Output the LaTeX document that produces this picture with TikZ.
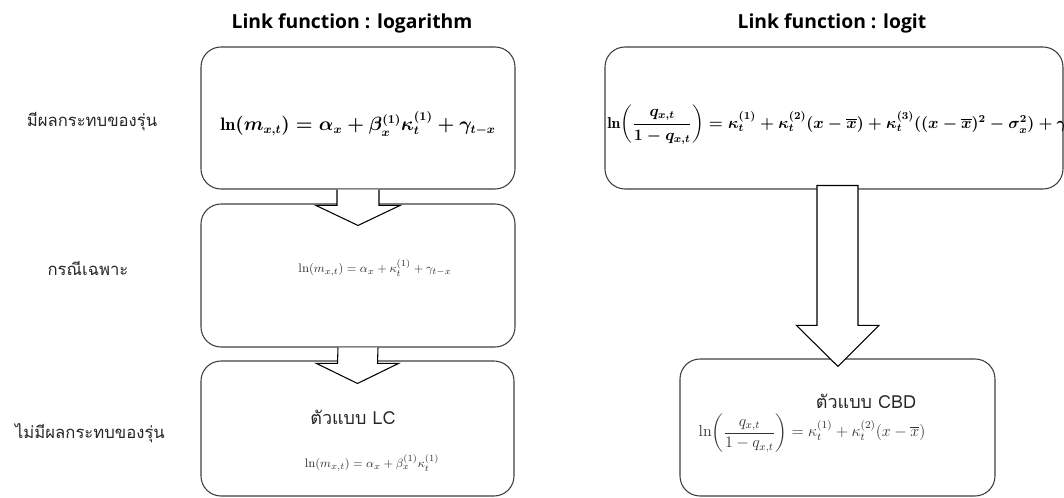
\documentclass[tikz,border=0pt]{standalone}
\usepackage{amsmath}
\usepackage{fontspec}
\newfontfamily\thaifont[Script=Thai]{Loma}
\newfontfamily\titlefont{Open Sans}
\usetikzlibrary{calc}
\newcommand\eqA{{\boldmath$\ln(m_{x,t}) = \alpha_x + \beta_x^{(1)}\kappa_t^{(1)} + \gamma_{t-x}$}}
\newcommand\eqB{$\ln(m_{x,t}) = \alpha_x + \kappa_t^{(1)} + \gamma_{t-x}$}
\newcommand\eqC{$\ln(m_{x,t}) = \alpha_x + \beta_x^{(1)}\kappa_t^{(1)}$}
\newcommand\eqD{{\boldmath$\ln\!\left(\dfrac{q_{x,t}}{1-q_{x,t}}\right) = \kappa_t^{(1)} + \kappa_t^{(2)}(x-\overline{x}) + \kappa_t^{(3)}((x-\overline{x})^2-\sigma_x^2) + \gamma_{t-x}$}}
\newcommand\eqE{$\ln\!\left(\dfrac{q_{x,t}}{1-q_{x,t}}\right) = \kappa_t^{(1)} + \kappa_t^{(2)}(x-\overline{x})$}
\begin{document}
\begin{tikzpicture}[x=0.75pt,y=-0.75pt,
  box/.style={draw=black!75, line width=0.8pt, rounded corners=15pt, inner sep=0pt},
  blockarrow/.style={draw=black, line width=0.8pt, fill=white, line join=miter},
  ttl/.style={font=\titlefont\bfseries\fontsize{14.5}{17}\selectfont},
  lbl/.style={font=\thaifont\fontsize{12.5}{15}\selectfont, text=black!85},
  sublbl/.style={font=\thaifont\fontsize{13.5}{15}\selectfont, text=black!85},
  eqbold/.style={font=\fontsize{13.5}{16}\selectfont, inner sep=0pt},
  eqreg/.style={font=\fontsize{9.3}{12}\selectfont, text=black!80, inner sep=0pt}]
\useasboundingbox (0,0) rectangle (1064,498);
\clip (0,0) rectangle (1064,498);
\fill[white] (0,0) rectangle (1064,498);

% titles
\node[ttl] (tl) at (352,23) {Link function : logarithm};
\node[ttl] (tr) at (832,23) {Link function : logit};

% left labels
\node[lbl] (l1) at (92,122) {มีผลกระทบของรุ่น};
\node[lbl] (l2) at (88,268) {กรณีเฉพาะ};
\node[lbl] (l3) at (90,433) {ไม่มีผลกระทบของรุ่น};

% boxes
\node[box, minimum width=235.5pt, minimum height=106.5pt] (b1) at (358,118) {};
\node[box, minimum width=235.5pt, minimum height=107.25pt] (b2) at (358,275.5) {};
\node[box, minimum width=234.75pt, minimum height=101.25pt] (b3) at (357.5,428.5) {};
\node[box, minimum width=343.5pt, minimum height=106.5pt] (r1) at (834,118) {};
\node[box, minimum width=236.25pt, minimum height=102.75pt] (r2) at (837.5,427.5) {};

% block arrows
\draw[blockarrow] ($(b1.south)+(-21,0)$) -- ($(b2.north)+(-21,2)$) -- ($(b2.north)+(-42,2)$)
  -- ($(b2.north)+(0,22)$) -- ($(b2.north)+(42,2)$) -- ($(b2.north)+(21,2)$) -- ($(b1.south)+(21,0)$);
\draw[blockarrow] ($(b2.south)+(-20,0)$) -- ($(b3.north)+(-20,3)$) -- ($(b3.north)+(-41,3)$)
  -- ($(b3.north)+(0,23)$) -- ($(b3.north)+(41,3)$) -- ($(b3.north)+(20,3)$) -- ($(b2.south)+(20,0)$);
\draw[blockarrow] ($(r1.south)+(-17,-4)$) -- ($(r2.north)+(-20.5,-33)$) -- ($(r2.north)+(-41,-33)$)
  -- ($(r2.north)+(0.5,8)$) -- ($(r2.north)+(41.5,-33)$) -- ($(r2.north)+(20.5,-33)$) -- ($(r1.south)+(24,-4)$) -- cycle;

% formulas
\node[eqbold] (f1) at (358,124) {\eqA};
\node[eqreg] (f2) at (375,268) {\eqB};
\node[sublbl] (s3) at (353,417) {ตัวแบบ LC};
\node[eqreg] (f3) at (372,463) {\eqC};
\node[eqbold, font=\fontsize{11.8}{15}\selectfont, anchor=west] (g1) at (607,125) {\eqD};
\node[sublbl] (s4) at (866,401) {ตัวแบบ CBD};
\node[eqreg, font=\fontsize{12}{14}\selectfont] (g2) at (812,433) {\eqE};
\end{tikzpicture}
\end{document}
